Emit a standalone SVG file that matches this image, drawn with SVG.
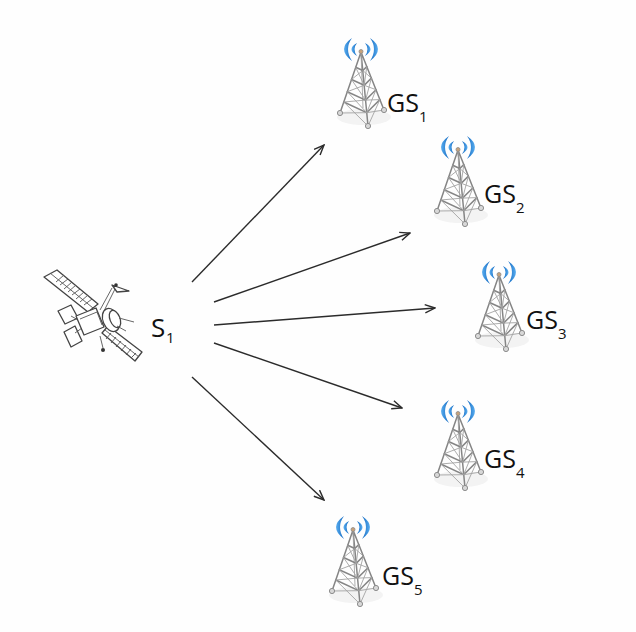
<svg xmlns="http://www.w3.org/2000/svg" width="636" height="632" viewBox="0 0 636 632">
  <defs>
    <style>
      .lbl { font-family: "Open Sans", "Liberation Sans", sans-serif; fill: #111; }
      .main { font-size: 25px; }
      .sub { font-size: 15px; }
      .link { stroke: #2b2b2b; stroke-width: 1.4; fill: none; marker-end: url(#arrow); }
      .steel { stroke: #858585; stroke-width: 1.5; fill: none; stroke-linecap: round; }
      .brace { stroke: #a3a3a3; stroke-width: 0.9; fill: none; }
      .foot { fill: #d8d8d8; stroke: #8c8c8c; stroke-width: 1; }
      .sat { stroke: #444; stroke-width: 1.3; fill: #fff; stroke-linejoin: round; }
      .satline { stroke: #555; stroke-width: 0.9; fill: none; }
    </style>
    <marker id="arrow" viewBox="0 0 12 10" refX="11" refY="5" markerWidth="12" markerHeight="10" markerUnits="userSpaceOnUse" orient="auto">
      <path d="M1,0.8 L11,5 L1,9.2" fill="none" stroke="#2b2b2b" stroke-width="1.4"/>
    </marker>
    <linearGradient id="wave" x1="0" y1="0" x2="1" y2="0">
      <stop offset="0" stop-color="#5aaef0"/>
      <stop offset="1" stop-color="#1268c0"/>
    </linearGradient>
    <linearGradient id="waveR" x1="1" y1="0" x2="0" y2="0">
      <stop offset="0" stop-color="#5aaef0"/>
      <stop offset="1" stop-color="#1268c0"/>
    </linearGradient>
    <!-- lattice radio mast, antenna tip at (0,0) -->
    <g id="tower">
      <ellipse cx="3" cy="67" rx="27" ry="8" fill="#f3f3f3"/>
      <!-- signal waves -->
      <path d="M-9,-12 Q-25,-1 -9,11 Q-17,-1 -9,-12 Z" fill="url(#wave)"/>
      <path d="M-4,-7 Q-15,-1 -4,6 Q-9,-1 -4,-7 Z" fill="url(#wave)"/>
      <path d="M9,-12 Q25,-1 9,11 Q17,-1 9,-12 Z" fill="url(#waveR)"/>
      <path d="M4,-7 Q15,-1 4,6 Q9,-1 4,-7 Z" fill="url(#waveR)"/>
      <!-- legs -->
      <path class="steel" d="M0,2 L-21,63 M0,2 L23,60 M0,2 L7,76"/>
      <path class="brace" d="M0,2 L2,58"/>
      <!-- rings -->
      <path class="steel" d="M-5.3,17.3 L1.8,20.5 L5.8,16.5 M-9.5,29.5 L3.2,35.3 L10.4,28.1 M-13.7,41.7 L4.6,50.1 L15,39.7 M-17.2,52 L5.7,62.7 L18.9,49.6"/>
      <!-- cross bracing -->
      <path class="brace" d="M-5.3,17.3 L3.2,35.3 M1.8,20.5 L-9.5,29.5 M1.8,20.5 L10.4,28.1 M5.8,16.5 L3.2,35.3
               M-9.5,29.5 L4.6,50.1 M3.2,35.3 L-13.7,41.7 M3.2,35.3 L15,39.7 M10.4,28.1 L4.6,50.1
               M-13.7,41.7 L5.7,62.7 M4.6,50.1 L-17.2,52 M4.6,50.1 L18.9,49.6 M15,39.7 L5.7,62.7
               M-17.2,52 L7,76 M5.7,62.7 L-21,63 M5.7,62.7 L23,60 M18.9,49.6 L7,76"/>
      <!-- feet -->
      <circle class="foot" cx="-21" cy="63" r="2.6"/>
      <circle class="foot" cx="23" cy="60" r="2.6"/>
      <circle class="foot" cx="7" cy="76" r="2.6"/>
      <circle cx="0" cy="1.5" r="2" fill="#c9a27a" stroke="#8c8c8c" stroke-width="0.8"/>
    </g>
  </defs>

  <rect width="636" height="632" fill="#fefefe"/>

  <!-- links from satellite to ground stations -->
  <g id="connectors">
    <line class="link" x1="192" y1="282" x2="324" y2="145"/>
    <line class="link" x1="214" y1="302" x2="410" y2="233"/>
    <line class="link" x1="214" y1="325" x2="435" y2="308"/>
    <line class="link" x1="214" y1="343" x2="402" y2="408"/>
    <line class="link" x1="192" y1="377" x2="324" y2="500"/>
  </g>

  <!-- satellite -->
  <g id="S1">
    <!-- upper solar array -->
    <path class="sat" d="M44,277 L57,270 L98,304 L88,312 Z"/>
    <path class="satline" d="M50,273 L93,308 M56,282 L64,275 M60,285 L68,279 M64,289 L72,282 M68,292 L76,285 M72,295 L80,289 M76,299 L84,292 M80,302 L88,295 M84,305 L92,299"/>
    <!-- lower solar array -->
    <path class="sat" d="M102,333 L108,326 L142,352 L135,361 Z"/>
    <path class="satline" d="M105,330 L139,357 M111,333 L106,339 M116,337 L111,343 M121,341 L116,347 M126,345 L121,351 M131,349 L126,355 M136,353 L131,358"/>
    <!-- side panels -->
    <path class="sat" d="M58,311 L71,305 L78,318 L65,324 Z"/>
    <path class="sat" d="M64,332 L75,326 L82,341 L71,347 Z"/>
    <line class="satline" x1="71" y1="316" x2="80" y2="321"/>
    <line class="satline" x1="75" y1="333" x2="82" y2="328"/>
    <!-- bus -->
    <path class="sat" d="M76,316 L96,308 L104,327 L84,335 Z"/>
    <path class="satline" d="M80,319 L97,312 L102,325"/>
    <!-- antenna boom -->
    <path class="satline" d="M100,310 L112,288 M104,311 L115,289" stroke-width="1.1"/>
    <path class="sat" d="M112,285 L129,291 L117,292 Z"/>
    <circle cx="116" cy="285" r="1.8" fill="#333"/>
    <!-- instrument drum -->
    <ellipse class="sat" cx="111" cy="320" rx="8" ry="12" transform="rotate(-22 111 320)"/>
    <ellipse class="sat" cx="115" cy="319" rx="5" ry="9" transform="rotate(-22 115 319)"/>
    <path class="satline" d="M119,318 L134,322 M117,326 L126,331"/>
    <path class="satline" d="M100,336 L103,348"/>
    <circle cx="103" cy="350" r="2" fill="#333"/>
    <text class="lbl" x="151" y="337" font-size="26">S</text>
    <text class="lbl sub" x="166" y="343">1</text>
  </g>

  <g id="GS1">
    <use href="#tower" x="361" y="50"/>
    <text class="lbl main" x="387" y="112">GS</text>
    <text class="lbl sub" x="419" y="122">1</text>
  </g>

  <g id="GS2">
    <use href="#tower" x="458" y="148"/>
    <text class="lbl main" x="484" y="203">GS</text>
    <text class="lbl sub" x="516" y="213">2</text>
  </g>

  <g id="GS3">
    <use href="#tower" x="499" y="273"/>
    <text class="lbl main" x="526" y="329">GS</text>
    <text class="lbl sub" x="558" y="339">3</text>
  </g>

  <g id="GS4">
    <use href="#tower" x="458" y="412"/>
    <text class="lbl main" x="484" y="468">GS</text>
    <text class="lbl sub" x="516" y="478">4</text>
  </g>

  <g id="GS5">
    <use href="#tower" x="353" y="528"/>
    <text class="lbl main" x="382" y="585">GS</text>
    <text class="lbl sub" x="414" y="595">5</text>
  </g>
</svg>
